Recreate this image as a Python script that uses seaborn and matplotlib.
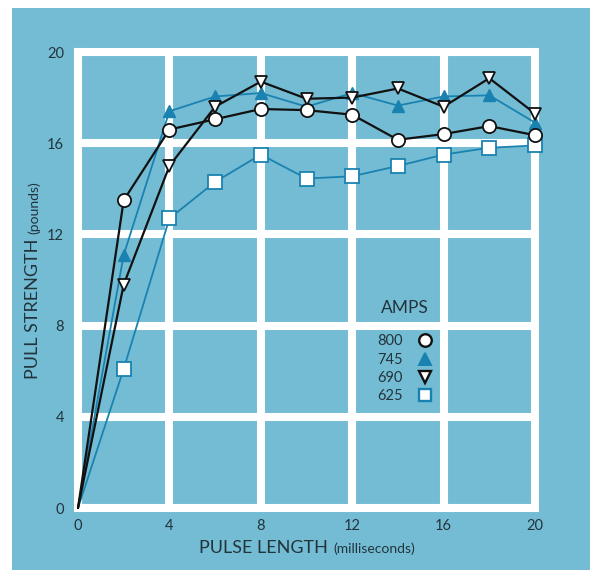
import matplotlib
matplotlib.use("Agg")
import matplotlib.pyplot as plt
from matplotlib.lines import Line2D
from matplotlib.patches import Rectangle
import seaborn as sns
import pandas as pd

# ---- data ----
pulse_ms = [0, 2, 4, 6, 8, 10, 12, 14, 16, 18, 20]
amps_800 = [0, 13.5, 16.6, 17.05, 17.5, 17.45, 17.25, 16.15, 16.4, 16.75, 16.35]
amps_745 = [0, 11.1, 17.4, 18.05, 18.2, 17.6, 18.2, 17.65, 18.05, 18.1, 16.9]
amps_690 = [0, 9.8, 15.0, 17.6, 18.7, 17.95, 18.0, 18.4, 17.6, 18.85, 17.3]
amps_625 = [0, 6.1, 12.7, 14.3, 15.5, 14.45, 14.55, 15.0, 15.5, 15.8, 15.9]
series_labels = ["800", "745", "690", "625"]
x_ticks = [0, 4, 8, 12, 16, 20]
y_ticks = [0, 4, 8, 12, 16, 20]

BG = "#74bcd4"
BLUE = "#1a82b0"
BLACK = "#111111"
TXT = "#22343c"

sns.set_theme(style="white")
plt.rcParams["font.family"] = ["Lato", "DejaVu Sans"]

W, H = 595, 570
fig = plt.figure(figsize=(W / 100, H / 100), dpi=100, facecolor="white")
fig.patches.append(Rectangle((12 / W, 0), (590 - 12) / W, (H - 8) / H,
                             transform=fig.transFigure, facecolor=BG,
                             edgecolor="none", zorder=-10))
ax = fig.add_axes([78 / W, 62 / H, 457 / W, 456 / H])
ax.set_facecolor(BG)

df = pd.DataFrame({"x": pulse_ms, "800": amps_800, "745": amps_745,
                   "690": amps_690, "625": amps_625})

styles = {
    "625": dict(color=BLUE, lw=1.3, marker="s", ms=9.5, mfc="white", mec=BLUE, mew=1.3, z=3),
    "745": dict(color=BLUE, lw=1.3, marker="^", ms=9, mfc=BLUE, mec=BLUE, mew=1.0, z=4),
    "690": dict(color=BLACK, lw=1.6, marker="v", ms=9, mfc="white", mec=BLACK, mew=1.3, z=5),
    "800": dict(color=BLACK, lw=1.6, marker="o", ms=9.5, mfc="white", mec=BLACK, mew=1.3, z=6),
}
marks = list(range(1, len(pulse_ms)))
for key in ["625", "745", "690", "800"]:
    s = styles[key]
    sns.lineplot(data=df, x="x", y=key, ax=ax, color=s["color"], linewidth=s["lw"],
                 marker=s["marker"], markersize=s["ms"], markerfacecolor=s["mfc"],
                 markeredgecolor=s["mec"], markeredgewidth=s["mew"],
                 markevery=marks, zorder=s["z"], clip_on=False)

ax.set_xlim(0, 20)
ax.set_ylim(0, 20)
ax.set_xticks(x_ticks)
ax.set_yticks(y_ticks)
ax.grid(True, color="white", linewidth=5.8)
ax.set_axisbelow(True)
for sp in ax.spines.values():
    sp.set_color("white")
    sp.set_linewidth(5.8)
    sp.set_visible(True)
    sp.set_zorder(1)
ax.tick_params(axis="both", length=0, labelsize=10.5, colors=TXT)
ax.tick_params(axis="x", pad=8)
ax.tick_params(axis="y", pad=10)
ax.set_xlabel("")
ax.set_ylabel("")

handles = []
for key in series_labels:
    s = styles[key]
    handles.append(Line2D([], [], linestyle="none", marker=s["marker"], markersize=s["ms"] * 0.95,
                          markerfacecolor=s["mfc"], markeredgecolor=s["mec"],
                          markeredgewidth=s["mew"] + 0.4))
leg = ax.legend(handles, series_labels, title="AMPS", loc="upper left",
                bbox_to_anchor=(0.632, 0.478), frameon=False, markerfirst=False,
                fontsize=10.5, title_fontsize=12.5, handlelength=1.0, handletextpad=1.0,
                labelspacing=0.3, borderpad=0.2)
leg.get_title().set_color(TXT)
leg._legend_box.sep = 13
for t in leg.get_texts():
    t.set_color(TXT)

# two-part axis labels (caps + smaller parenthetical), centred as a unit
CAP, SMALL = 13, 10
fig.canvas.draw()
r = fig.canvas.get_renderer()

# x label centred at (307, 547) px from top-left
tx1 = fig.text(0, 0, "PULSE LENGTH ", fontsize=CAP, color=TXT, va="baseline")
tx2 = fig.text(0, 0, "(milliseconds)", fontsize=SMALL, color=TXT, va="baseline")
w1 = tx1.get_window_extent(r).width
w2 = tx2.get_window_extent(r).width
x0 = 307 - (w1 + w2) / 2
base = H - 553
tx1.set_position((x0 / W, base / H))
tx2.set_position(((x0 + w1) / W, base / H))

# y label centred at (32, 280) px, rotated
ty1 = fig.text(0, 0, "PULL STRENGTH ", fontsize=CAP, color=TXT, rotation=90,
               ha="left", va="bottom", rotation_mode="anchor")
ty2 = fig.text(0, 0, "(pounds)", fontsize=SMALL, color=TXT, rotation=90,
               ha="left", va="baseline", rotation_mode="anchor")
h1 = ty1.get_window_extent(r).height
h2 = ty2.get_window_extent(r).height
y0 = (H - 280) - (h1 + h2) / 2
xb = 38
ty1.set_va("baseline")
ty1.set_position((xb / W, y0 / H))
ty2.set_position((xb / W, (y0 + h1) / H))

fig.savefig("out.png", dpi=100, facecolor="white")
